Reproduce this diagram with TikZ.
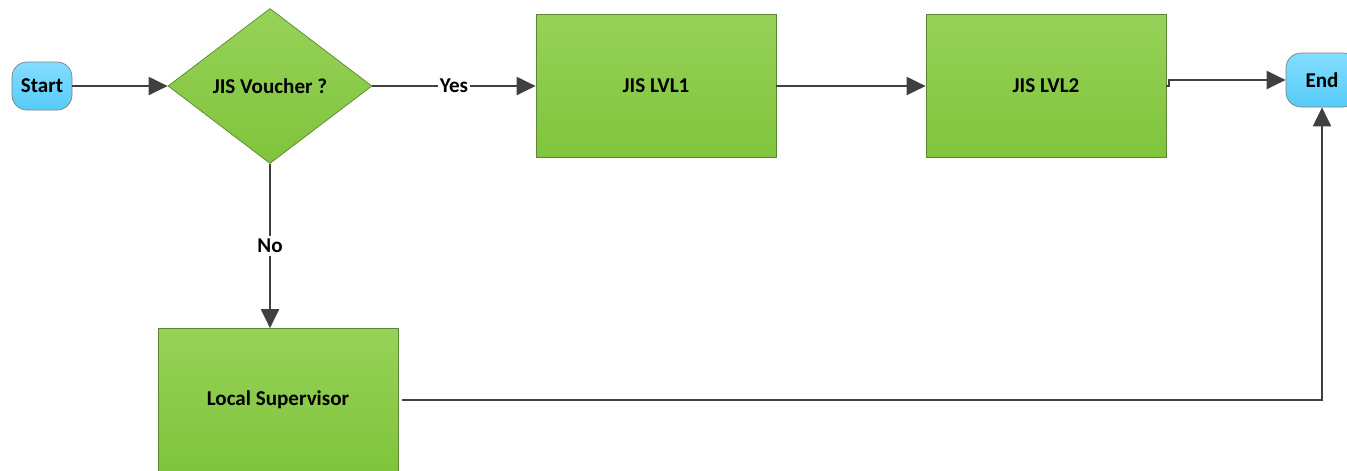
\documentclass[tikz,border=0pt]{standalone}
\usepackage{fontspec}
\setmainfont{Carlito}
\usetikzlibrary{shapes.geometric, arrows.meta, positioning}

\definecolor{boxtop}{HTML}{96D258}
\definecolor{boxbot}{HTML}{80C43C}
\definecolor{boxline}{HTML}{5C8636}
\definecolor{termtop}{HTML}{84DDFF}
\definecolor{termbot}{HTML}{55CBF8}
\definecolor{flow}{HTML}{404040}

\begin{document}
\begin{tikzpicture}[font=\fontsize{12}{14}\selectfont\bfseries,
    block/.style={draw=boxline, top color=boxtop, bottom color=boxbot, minimum width=48mm, minimum height=28.6mm},
    term/.style={draw=gray, rounded corners=3mm, top color=termtop, bottom color=termbot, minimum width=12mm, minimum height=9.6mm, inner sep=1pt},
    decision/.style={diamond, draw=boxline, top color=boxtop, bottom color=boxbot, minimum width=40.8mm, minimum height=31mm, inner sep=0pt},
    flowline/.style={draw=flow, line width=1.2pt, -{Triangle[length=3.8mm, width=3.6mm]}},]
    \useasboundingbox (0,0) rectangle (26.94,-9.4);
    \node[term] (start) at (0.84,-1.72) {Start};
    \node[decision, right of=start, node distance=4.56cm] (voucher) {JIS Voucher ?};
    \node[block, right of=voucher, node distance=7.72cm] (lvl1) {JIS LVL1};
    \node[block, right of=lvl1, node distance=7.8cm] (lvl2) {JIS LVL2};
    \node[term, right of=lvl2, node distance=5.52cm, yshift=1.2mm, minimum width=14.4mm, minimum height=10.8mm] (end) {End};
    \node[block, below of=voucher, node distance=6.28cm, xshift=1.6mm] (super) {Local Supervisor};
    \draw[flowline] (start) -- (voucher);
    \draw[flowline] (voucher) -- node[pos=0.5, fill=white, inner sep=1pt] {Yes} (lvl1);
    \draw[flowline] (lvl1) -- (lvl2);
    \draw[flowline] (lvl2.east) -- ++(0.06,0) |- (end.west);
    \draw[flowline] (voucher.south) -- node[fill=white, inner sep=2pt] {No} (voucher.south |- super.north);
    \draw[flowline] (super.east) ++(0.08,0) -| (end.south);
\end{tikzpicture}
\end{document}
